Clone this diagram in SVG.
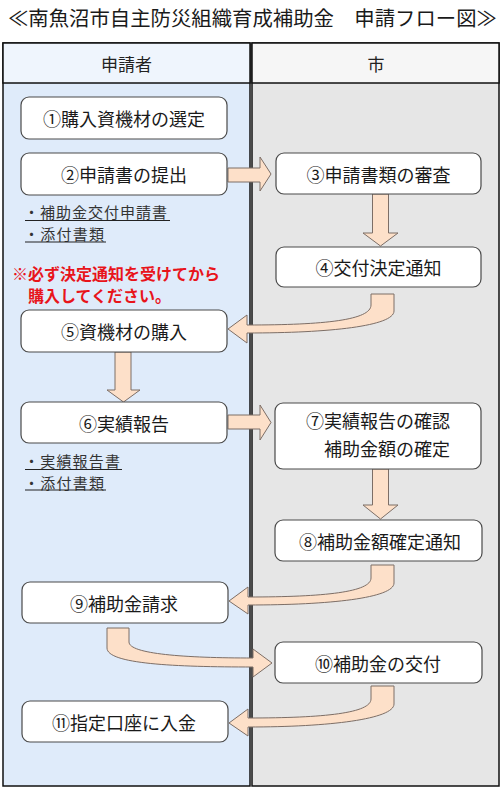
<svg xmlns="http://www.w3.org/2000/svg" width="503" height="789" viewBox="0 0 503 789">
<style>
  text { font-family: "Noto Sans CJK JP", "Noto Sans", sans-serif; fill: #1a1a1a; }
  .lbl { font-size: 18px; text-anchor: middle; dominant-baseline: central; }
  .hdr { font-size: 17px; text-anchor: middle; dominant-baseline: central; fill: #222; }
  .sub { font-size: 15px; dominant-baseline: central; fill: #333; }
  .ul { stroke: #222; stroke-width: 1.2; }
  .warn { font-size: 16px; font-weight: bold; dominant-baseline: central; fill: #e8141b; }
  .node rect { fill: #ffffff; stroke: #4a4a4a; stroke-width: 1.2; }
  .arrow { fill: #fde0c9; stroke: #7d6e66; stroke-width: 1; stroke-linejoin: miter; }
  .lane { stroke: #111; stroke-width: 1.5; }
</style>
<rect width="503" height="789" fill="#ffffff"/>
<text x="8" y="17" font-size="20" dominant-baseline="central" textLength="489" lengthAdjust="spacingAndGlyphs" fill="#222">≪南魚沼市自主防災組織育成補助金　申請フロー図≫</text>

<g id="lane-applicant">
  <rect class="lane" x="3" y="43" width="247" height="743" fill="#dfebfa"/>
  <rect class="lane" x="3" y="43" width="247" height="40" fill="#eff5fd"/>
  <text class="hdr" x="126.5" y="63">申請者</text>
</g>
<g id="lane-city">
  <rect class="lane" x="252" y="43" width="247" height="743" fill="#e6e6e6"/>
  <rect class="lane" x="252" y="43" width="247" height="40" fill="#f6f6f6"/>
  <text class="hdr" x="376" y="63">市</text>
</g>

<g id="connectors">
  <path class="arrow" d="M228 168 H260 V157 L271 174 L260 191 V182 H228 Z"/>
  <path class="arrow" d="M372.5 194 H388.5 V233 H398 L380.5 246 L363 233 H372.5 Z"/>
  <path class="arrow" d="M371 294 H394 V311 C394 326 330 333 247 333 V343 L228 329 L247 315 V325 C325 325 371 320 371 305 Z"/>
  <path class="arrow" d="M115 352 H131 V390 H140 L123.5 402 L107 390 H115 Z"/>
  <path class="arrow" d="M228 415 H260 V405 L271 422.5 L260 440 V429 H228 Z"/>
  <path class="arrow" d="M372.5 469 H388.5 V505 H398 L380.5 519 L363 505 H372.5 Z"/>
  <path class="arrow" d="M371 565 H394 V583 C394 598 330 605 248 605 V614 L229 601 L248 587 V597 C325 597 371 592 371 578 Z"/>
  <path class="arrow" d="M107 628 H129 V642 C129 654 185 658 253 658 V649 L272 663 L253 677 V667 C175 667 107 664 107 648 Z"/>
  <path class="arrow" d="M371 686 H394 V704 C394 719 330 727 248 727 V736 L229 723 L248 709 V718 C325 718 371 713 371 699 Z"/>
</g>

<g id="n1" class="node"><rect x="21" y="97" width="206" height="42" rx="8"/><text class="lbl" x="124" y="118">①購入資機材の選定</text></g>
<g id="n2" class="node"><rect x="21" y="153" width="206" height="42" rx="8"/><text class="lbl" x="124" y="174">②申請書の提出</text></g>
<g id="n2-docs">
  <text class="sub" x="24" y="211" textLength="143" lengthAdjust="spacing">・補助金交付申請書</text>
  <line class="ul" x1="25" y1="220.5" x2="170" y2="220.5"/>
  <text class="sub" x="24" y="233" textLength="80" lengthAdjust="spacing">・添付書類</text>
  <line class="ul" x1="25" y1="242" x2="106" y2="242"/>
</g>
<g id="note">
  <text class="warn" x="12" y="273">※必ず決定通知を受けてから</text>
  <text class="warn" x="12" y="295">　購入してください。</text>
</g>
<g id="n3" class="node"><rect x="276" y="153" width="205" height="41" rx="8"/><text class="lbl" x="378.5" y="173.5">③申請書類の審査</text></g>
<g id="n4" class="node"><rect x="276" y="247" width="205" height="40" rx="8"/><text class="lbl" x="378.5" y="267">④交付決定通知</text></g>
<g id="n5" class="node"><rect x="21" y="310" width="206" height="42" rx="8"/><text class="lbl" x="124" y="331">⑤資機材の購入</text></g>
<g id="n6" class="node"><rect x="21" y="402" width="206" height="41" rx="8"/><text class="lbl" x="124" y="422.5">⑥実績報告</text></g>
<g id="n6-docs">
  <text class="sub" x="24" y="460" textLength="96" lengthAdjust="spacing">・実績報告書</text>
  <line class="ul" x1="25" y1="469.5" x2="122" y2="469.5"/>
  <text class="sub" x="24" y="482" textLength="80" lengthAdjust="spacing">・添付書類</text>
  <line class="ul" x1="25" y1="490" x2="106" y2="490"/>
</g>
<g id="n7" class="node"><rect x="275" y="403" width="206" height="66" rx="8"/>
  <text class="lbl" x="306" y="420" style="text-anchor:start">⑦実績報告の確認</text>
  <text class="lbl" x="306" y="448" style="text-anchor:start">　補助金額の確定</text>
</g>
<g id="n8" class="node"><rect x="275" y="520" width="207" height="41" rx="8"/><text class="lbl" x="380" y="540.5">⑧補助金額確定通知</text></g>
<g id="n9" class="node"><rect x="22" y="582" width="206" height="41" rx="8"/><text class="lbl" x="124" y="602.5">⑨補助金請求</text></g>
<g id="n10" class="node"><rect x="275" y="642" width="207" height="41" rx="8"/><text class="lbl" x="378" y="662.5">⑩補助金の交付</text></g>
<g id="n11" class="node"><rect x="22" y="701" width="206" height="41" rx="8"/><text class="lbl" x="124" y="721.5">⑪指定口座に入金</text></g>
</svg>
